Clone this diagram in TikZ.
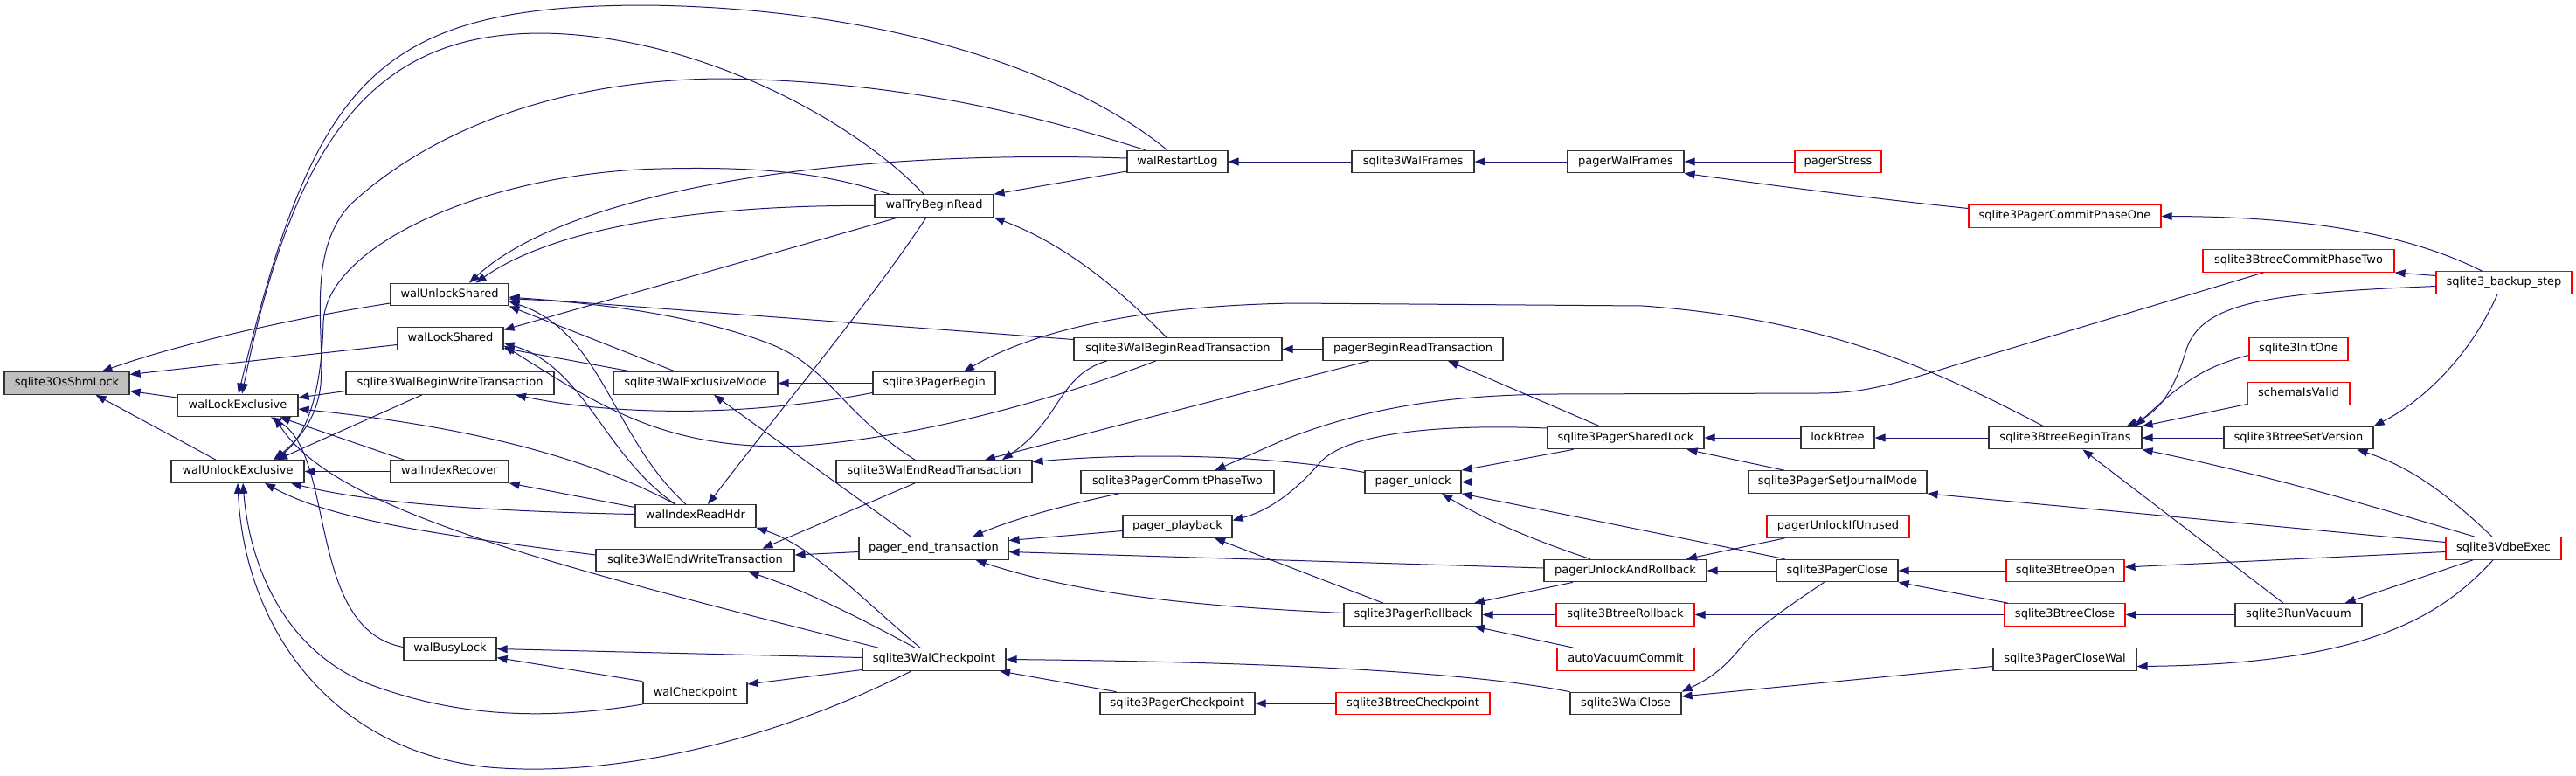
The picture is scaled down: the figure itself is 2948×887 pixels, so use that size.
\documentclass[tikz,border=0pt]{standalone}
\usepackage{fontspec}
\setmainfont{DejaVu Sans}
\usetikzlibrary{arrows.meta}
\definecolor{edgeblue}{HTML}{191970}
\definecolor{boxline}{HTML}{333333}
\definecolor{rootfill}{HTML}{BFBFBF}
\newcommand\fnfont{\fontsize{13}{15}\selectfont}
\tikzset{
  fn/.style={draw=boxline, line width=1.2pt, fill=white, rectangle, minimum height=25.5pt,
    inner xsep=3pt, inner ysep=0pt, text height=9.6pt, text depth=2.8pt, font=\fnfont},
  fnred/.style={fn, draw=red},
  fnroot/.style={fn, fill=rootfill},
  ln/.style={draw=edgeblue, line width=1pt, -{Triangle[length=12pt,width=9pt]}}
}
\begin{document}
\begin{tikzpicture}[x=1pt,y=-1pt]
\useasboundingbox (0,0) rectangle (2948,887);
\fill[white] (0,0) rectangle (2948,887);
% nodes
\node[fnroot, minimum width=143pt] (shm) at (76.5,438.5) {sqlite3OsShmLock};
\node[fn, minimum width=138pt] (wle) at (272,464) {walLockExclusive};
\node[fn, minimum width=152pt] (wue) at (272,539.5) {walUnlockExclusive};
\node[fn, minimum width=135pt] (wus) at (514.5,337) {walUnlockShared};
\node[fn, minimum width=121pt] (wls) at (515.5,387.5) {walLockShared};
\node[fn, minimum width=238pt] (wbwt) at (515,438.5) {sqlite3WalBeginWriteTransaction};
\node[fn, minimum width=135pt] (wir) at (514.5,539.5) {walIndexRecover};
\node[fn, minimum width=106pt] (wbl) at (515,742.5) {walBusyLock};
\node[fn, minimum width=188pt] (wem) at (796,438.5) {sqlite3WalExclusiveMode};
\node[fn, minimum width=138pt] (wirh) at (796,590.5) {walIndexReadHdr};
\node[fn, minimum width=227pt] (wewt) at (795.5,641) {sqlite3WalEndWriteTransaction};
\node[fn, minimum width=119pt] (wcp) at (795.5,793) {walCheckpoint};
\node[fn, minimum width=115pt] (wrl) at (1347.5,185) {walRestartLog};
\node[fn, minimum width=136pt] (wtbr) at (1069,235.5) {walTryBeginRead};
\node[fn, minimum width=238pt] (wbrt) at (1348,399.5) {sqlite3WalBeginReadTransaction};
\node[fn, minimum width=140pt] (pbeg) at (1069,438.5) {sqlite3PagerBegin};
\node[fn, minimum width=224pt] (wert) at (1069,539.5) {sqlite3WalEndReadTransaction};
\node[fn, minimum width=221pt] (pcp2) at (1347.5,551.5) {sqlite3PagerCommitPhaseTwo};
\node[fn, minimum width=125pt] (ppb) at (1347.5,602.5) {pager\_playback};
\node[fn, minimum width=171pt] (pet) at (1068.5,627.5) {pager\_end\_transaction};
\node[fn, minimum width=164pt] (swcp) at (1069,754.5) {sqlite3WalCheckpoint};
\node[fn, minimum width=177pt] (pckp) at (1347.5,805) {sqlite3PagerCheckpoint};
\node[fn, minimum width=140pt] (swf) at (1617,185) {sqlite3WalFrames};
\node[fn, minimum width=133pt] (pwf) at (1860.5,185) {pagerWalFrames};
\node[fn, minimum width=206pt] (pbrt) at (1617,399.5) {pagerBeginReadTransaction};
\node[fn, minimum width=179pt] (psl) at (1860.5,501) {sqlite3PagerSharedLock};
\node[fn, minimum width=110pt] (pul) at (1617,551.5) {pager\_unlock};
\node[fn, minimum width=186pt] (puar) at (1860,653) {pagerUnlockAndRollback};
\node[fn, minimum width=158pt] (prb) at (1617,703.5) {sqlite3PagerRollback};
\node[fnred, minimum width=158pt] (btrb) at (1860,703.5) {sqlite3BtreeRollback};
\node[fnred, minimum width=157pt] (avc) at (1860.5,754.5) {autoVacuumCommit};
\node[fnred, minimum width=176pt] (btcp) at (1617,805) {sqlite3BtreeCheckpoint};
\node[fn, minimum width=127pt] (wcl) at (1860.5,805) {sqlite3WalClose};
\node[fnred, minimum width=99pt] (pst) at (2103.5,185) {pagerStress};
\node[fnred, minimum width=220pt] (pcp1) at (2363,247.5) {sqlite3PagerCommitPhaseOne};
\node[fn, minimum width=84pt] (lbt) at (2103,501) {lockBtree};
\node[fn, minimum width=175pt] (bbt) at (2363.5,501) {sqlite3BtreeBeginTrans};
\node[fn, minimum width=204pt] (psjm) at (2103,551.5) {sqlite3PagerSetJournalMode};
\node[fnred, minimum width=163pt] (puiu) at (2103.5,602.5) {pagerUnlockIfUnused};
\node[fn, minimum width=139pt] (pcl) at (2102.5,653) {sqlite3PagerClose};
\node[fnred, minimum width=135pt] (bto) at (2363.5,653) {sqlite3BtreeOpen};
\node[fnred, minimum width=138pt] (btc) at (2363,703.5) {sqlite3BtreeClose};
\node[fn, minimum width=164pt] (pcw) at (2363,754.5) {sqlite3PagerCloseWal};
\node[fnred, minimum width=219pt] (bcp2) at (2630.5,298.5) {sqlite3BtreeCommitPhaseTwo};
\node[fnred, minimum width=155pt] (bks) at (2865.5,323.5) {sqlite3\_backup\_step};
\node[fnred, minimum width=113pt] (sio) at (2630.5,399.5) {sqlite3InitOne};
\node[fnred, minimum width=117pt] (siv) at (2630.5,450.5) {schemaIsValid};
\node[fn, minimum width=171pt] (bsv) at (2630.5,501) {sqlite3BtreeSetVersion};
\node[fnred, minimum width=132pt] (vdbe) at (2865,627.5) {sqlite3VdbeExec};
\node[fn, minimum width=145pt] (rv) at (2630.5,703.5) {sqlite3RunVacuum};
% edges into sqlite3OsShmLock
\draw[ln] ([yshift=-10pt]wus.west) .. controls (330,365) and (200,395) .. ([xshift=40pt]shm.north);
\draw[ln] ([yshift=-7pt]wls.west) -- ([yshift=10pt]shm.east);
\draw[ln] ([yshift=9pt]wle.west) -- ([yshift=-9pt]shm.east);
\draw[ln] ([xshift=-25pt]wue.north) -- ([xshift=33pt]shm.south);
% into walLockExclusive
\draw[ln] ([xshift=-12pt]wrl.north) .. controls (1250,100) and (1050,10) .. (740,6) .. controls (430,6) and (360,90) .. ([xshift=1pt]wle.north);
\draw[ln] ([xshift=-12pt]wtbr.north) .. controls (980,140) and (800,40) .. (620,38) .. controls (440,38) and (340,140) .. ([xshift=5pt]wle.north);
\draw[ln] ([yshift=-9pt]wbwt.west) -- ([yshift=9pt]wle.east);
\draw[ln] ([xshift=-23pt]wirh.north) .. controls (650,510) and (480,482) .. ([yshift=-4pt]wle.east);
\draw[ln] ([xshift=-52pt]wir.north) -- ([xshift=48pt]wle.south);
\draw[ln] ([yshift=2pt]wbl.west) .. controls (350,720) and (385,520) .. ([xshift=38pt]wle.south);
\draw[ln] ([xshift=-64pt]swcp.north) .. controls (600,640) and (380,580) .. ([xshift=42pt]wle.south);
% into walUnlockExclusive
\draw[ln] ([xshift=-37pt]wrl.north) .. controls (1150,120) and (1000,92) .. (823,90) .. controls (620,92) and (480,160) .. (400,235) .. controls (350,290) and (372,380) .. (367,440) .. controls (363,480) and (340,505) .. ([xshift=41pt]wue.north);
\draw[ln] ([xshift=-51pt]wtbr.north) .. controls (950,200) and (880,190) .. (757,193) .. controls (560,197) and (372,280) .. (370,370) .. controls (368,440) and (355,495) .. ([xshift=43pt]wue.north);
\draw[ln] ([xshift=-32pt]wbwt.south) -- ([xshift=45pt]wue.north);
\draw[ln] (wir.west) -- (wue.east);
\draw[ln] ([yshift=2pt]wirh.west) .. controls (550,585) and (420,575) .. ([xshift=61pt]wue.south);
\draw[ln] ([yshift=6pt]wewt.west) .. controls (500,612) and (380,595) .. ([xshift=31pt]wue.south);
\draw[ln] ([yshift=-13pt]wcp.west) .. controls (620,825) and (520,820) .. (420,782) .. controls (320,740) and (285,640) .. ([xshift=6pt]wue.south);
\draw[ln] ([xshift=-26pt]swcp.south) .. controls (880,850) and (700,890) .. (560,878) .. controls (380,860) and (280,720) .. (wue.south);
% into walUnlockShared
\draw[ln] ([yshift=4pt]wrl.west) .. controls (950,170) and (650,220) .. ([xshift=22.5pt]wus.north);
\draw[ln] (wtbr.west) .. controls (850,234) and (650,250) .. ([xshift=30pt]wus.north);
\draw[ln] ([yshift=11pt]wbrt.west) -- ([yshift=-3pt]wus.east);
\draw[ln] ([xshift=-22pt]wert.north) .. controls (960,470) and (950,420) .. (880,393) .. controls (800,362) and (680,345) .. ([yshift=-5pt]wus.east);
\draw[ln] ([xshift=-11pt]wirh.north) .. controls (700,500) and (690,380) .. ([yshift=-8pt]wus.east);
\draw[ln] ([xshift=-23pt]wem.north) -- (wus.south east);
% into walLockShared
\draw[ln] ([xshift=-41pt]wtbr.south) -- ([yshift=10pt]wls.east);
\draw[ln] ([xshift=-23pt]wirh.north) .. controls (690,520) and (670,420) .. ([yshift=-5pt]wls.east);
\draw[ln] ([xshift=-25pt]wbrt.south) .. controls (1200,460) and (1050,500) .. (920,510) .. controls (760,518) and (680,460) .. ([yshift=-8pt]wls.east);
\draw[ln] ([xshift=-73pt]wem.north) -- ([yshift=-11pt]wls.east);
% column 515 others
\draw[ln] ([yshift=-11pt]pbeg.west) .. controls (850,478) and (700,475) .. ([xshift=75pt]wbwt.south);
\draw[ln] ([yshift=10pt]wirh.west) -- (wir.south east);
\draw[ln] ([yshift=2pt]swcp.west) -- (wbl.east);
\draw[ln] (wcp.north west) -- ([yshift=-10pt]wbl.east);
\draw[ln] ([yshift=-12pt]swcp.west) -- ([yshift=10pt]wcp.east);
% column 796
\draw[ln] (pbeg.west) -- (wem.east);
\draw[ln] ([xshift=-26pt]pet.north) -- ([xshift=21pt]wem.south);
\draw[ln] ([xshift=-9pt]wtbr.south) .. controls (1000,340) and (900,460) .. ([xshift=14pt]wirh.north);
\draw[ln] ([xshift=-16pt]swcp.north) .. controls (980,680) and (930,625) .. (wirh.south east);
\draw[ln] ([xshift=-22pt]wert.south) -- ([xshift=77pt]wewt.north);
\draw[ln] ([yshift=-4pt]pet.west) -- ([yshift=6pt]wewt.east);
\draw[ln] ([xshift=-22pt]swcp.north) .. controls (980,705) and (920,675) .. ([xshift=61pt]wewt.south);
% column 1069
\draw[ln] ([yshift=-11pt]wrl.west) -- (wtbr.north east);
\draw[ln] ([xshift=-13pt]wbrt.north) .. controls (1280,330) and (1220,280) .. (wtbr.south east);
\draw[ln] ([xshift=-25pt]bbt.north) .. controls (2200,415) and (2080,365) .. (1880,350) -- (1480,347) .. controls (1300,350) and (1180,380) .. ([xshift=34pt]pbeg.north);
\draw[ln] (pbrt.west) -- (wbrt.east);
\draw[ln] ([xshift=-81pt]wbrt.south) .. controls (1210,430) and (1215,480) .. ([xshift=78pt]wert.north);
\draw[ln] ([xshift=-50pt]pbrt.south) -- ([xshift=58pt]wert.north);
\draw[ln] ([yshift=11pt]pul.west) .. controls (1450,520) and (1300,518) .. ([yshift=11pt]wert.east);
\draw[ln] ([xshift=-67pt]pcp2.south) .. controls (1200,582) and (1150,598) .. ([xshift=44.5pt]pet.north);
\draw[ln] ([yshift=-5pt]ppb.west) -- ([yshift=9pt]pet.east);
\draw[ln] ([yshift=3pt]puar.west) -- ([yshift=-4pt]pet.east);
\draw[ln] ([yshift=2pt]prb.west) .. controls (1400,695) and (1250,685) .. ([xshift=48pt]pet.south);
\draw[ln] ([xshift=-70pt]pckp.north) -- ([xshift=75pt]swcp.south);
\draw[ln] (wcl.north west) .. controls (1700,772) and (1500,758) .. (swcp.east);
% column 1348
\draw[ln] (swf.west) -- (wrl.east);
\draw[ln] ([xshift=-40pt]bcp2.south) -- (2240,417) .. controls (2160,442) and (2130,450) .. (2080,450) -- (1780,451) .. controls (1650,452) and (1560,468) .. (1470,503) -- ([xshift=43pt]pcp2.north);
\draw[ln] ([yshift=11pt]psl.west) .. controls (1650,485) and (1540,495) .. (1510,530) .. controls (1480,565) and (1450,585) .. ([yshift=7pt]ppb.east);
\draw[ln] ([xshift=-34pt]prb.north) -- ([xshift=42.5pt]ppb.south);
\draw[ln] (btcp.west) -- (pckp.east);
% column 1617
\draw[ln] (pwf.west) -- (swf.east);
\draw[ln] ([xshift=-30pt]psl.north) -- ([xshift=40pt]pbrt.south);
\draw[ln] ([xshift=-60pt]psl.south) -- (pul.north east);
\draw[ln] (psjm.west) -- (pul.east);
\draw[ln] ([xshift=-60pt]pcl.north) -- (pul.south east);
\draw[ln] ([xshift=-40pt]puar.north) .. controls (1760,620) and (1700,595) .. ([xshift=33pt]pul.south);
\draw[ln] ([xshift=-60pt]puar.south) -- ([xshift=70pt]prb.north);
\draw[ln] (btrb.west) -- (prb.east);
\draw[ln] ([xshift=-60pt]avc.north) -- ([xshift=70pt]prb.south);
\draw[ln] (btc.west) -- (btrb.east);
% column 1860
\draw[ln] (pst.west) -- (pwf.east);
\draw[ln] ([yshift=9pt]pcp1.west) .. controls (2150,228) and (2050,215) .. (pwf.south east);
\draw[ln] (lbt.west) -- (psl.east);
\draw[ln] ([xshift=-61pt]psjm.north) -- ([xshift=70pt]psl.south);
\draw[ln] ([xshift=-61pt]puiu.south) -- ([xshift=70pt]puar.north);
\draw[ln] (pcl.west) -- (puar.east);
\draw[ln] ([xshift=-15pt]pcl.south) .. controls (2030,705) and (2010,720) .. (1993,740) .. controls (1975,762) and (1960,775) .. (wcl.north east);
\draw[ln] ([yshift=-8pt]pcw.west) -- ([yshift=8pt]wcl.east);
% column 2103
\draw[ln] (bbt.west) -- (lbt.east);
\draw[ln] ([yshift=7pt]vdbe.west) -- (psjm.south east);
\draw[ln] (bto.west) -- (pcl.east);
\draw[ln] ([xshift=-65pt]btc.north) -- (pcl.south east);
% column 2363
\draw[ln] ([xshift=-25pt]bks.north) .. controls (2760,270) and (2650,248) .. (pcp1.east);
\draw[ln] ([yshift=-4pt]bks.west) .. controls (2600,335) and (2520,345) .. (2502,400) .. controls (2490,440) and (2475,470) .. ([xshift=-18pt]bbt.north east);
\draw[ln] ([yshift=-7pt]sio.west) .. controls (2520,420) and (2495,440) .. ([xshift=-8pt]bbt.north east);
\draw[ln] ([yshift=-12pt]siv.west) -- (bbt.north east);
\draw[ln] (bsv.west) -- (bbt.east);
\draw[ln] ([xshift=-33pt]vdbe.north) .. controls (2700,575) and (2600,545) .. (bbt.south east);
\draw[ln] ([xshift=-17.5pt]rv.north) -- ([xshift=20pt]bbt.south);
\draw[ln] ([yshift=-4pt]vdbe.west) -- ([yshift=4pt]bto.east);
\draw[ln] (rv.west) -- (btc.east);
\draw[ln] ([xshift=-12pt]vdbe.south) .. controls (2790,710) and (2700,760) .. ([yshift=-8pt]pcw.east);
% column 2630
\draw[ln] ([yshift=8pt]bks.west) -- (bcp2.south east);
\draw[ln] ([xshift=-7.5pt]bks.south) .. controls (2830,400) and (2780,455) .. (bsv.north east);
\draw[ln] ([xshift=-13pt]vdbe.north) .. controls (2800,565) and (2760,535) .. ([xshift=67pt]bsv.south);
\draw[ln] ([xshift=-35pt]vdbe.south) -- ([xshift=53pt]rv.north);
\end{tikzpicture}
\end{document}
